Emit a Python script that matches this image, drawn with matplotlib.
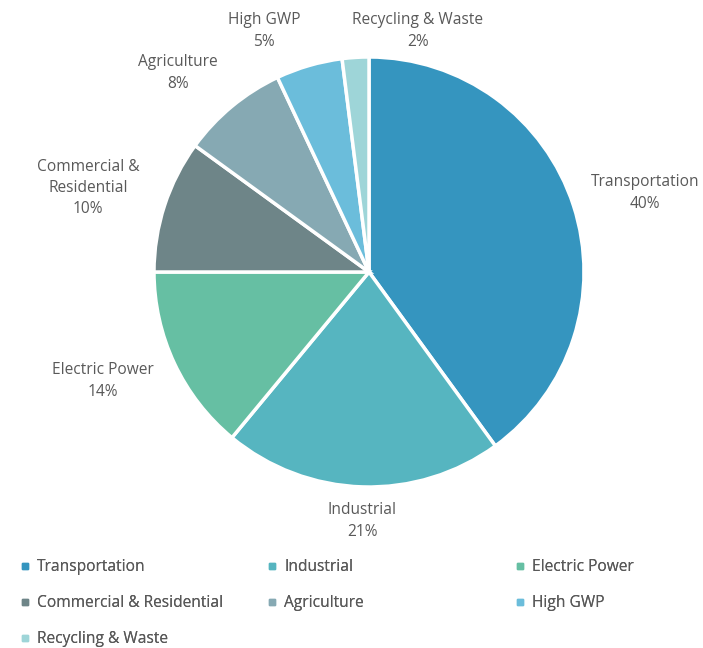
import matplotlib
matplotlib.use("Agg")
import matplotlib.pyplot as plt
from matplotlib.lines import Line2D

categories = ["Transportation", "Industrial", "Electric Power",
              "Commercial & Residential", "Agriculture", "High GWP",
              "Recycling & Waste"]
values = [40, 21, 14, 10, 8, 5, 2]
label_texts = ["Transportation", "Industrial", "Electric Power",
               "Commercial &\nResidential", "Agriculture", "High GWP",
               "Recycling & Waste"]

colors = ["#3595BF", "#56B5C0", "#66BFA3", "#6E8588", "#86A9B3", "#6BBDDB", "#9ED5D8"]
# label anchor positions (pixel layout, y from top)
label_pos = [(645, 193), (362, 521), (103, 381), (88, 188), (178, 73), (264, 31), (418, 31)]

W, H = 703, 648
fig = plt.figure(figsize=(W / 100, H / 100), dpi=100)
ax = fig.add_axes([0, 0, 1, 1])
FONT = ["Open Sans", "DejaVu Sans"]
TXT = "#595959"
FS = 11.2

cx, cy, r = 369, H - 272, 215
wedges, _ = ax.pie(values, colors=colors, startangle=90, counterclock=False,
                   center=(cx, cy), radius=r,
                   wedgeprops=dict(edgecolor="white", linewidth=2.5))
ax.set_xlim(0, W)
ax.set_ylim(0, H)
ax.set_aspect("equal")
ax.axis("off")

for txt, v, (lx, ly) in zip(label_texts, values, label_pos):
    ax.text(lx, H - ly, f"{txt}\n{v}%", ha="center", va="center",
            fontsize=FS, color=TXT, family=FONT, linespacing=1.45)

# legend in three columns (row-major order like the original)
cols_x = [20, 267, 515]
row0 = 559
for c in range(3):
    idx = [i for i in range(len(categories)) if i % 3 == c]
    handles = [Line2D([], [], marker="s", linestyle="none", markersize=4,
                      markerfacecolor=colors[i], markeredgecolor=colors[i]) for i in idx]
    leg = fig.legend(handles, [categories[i] for i in idx], loc="upper left",
                     bbox_to_anchor=(cols_x[c] / W, 1 - row0 / H),
                     frameon=False, prop={"family": FONT, "size": FS},
                     labelcolor=TXT, handlelength=0.6, handletextpad=0.5,
                     labelspacing=1.3, borderpad=0, borderaxespad=0)
    fig.add_artist(leg)

fig.savefig("out.png", dpi=100, facecolor="white")
